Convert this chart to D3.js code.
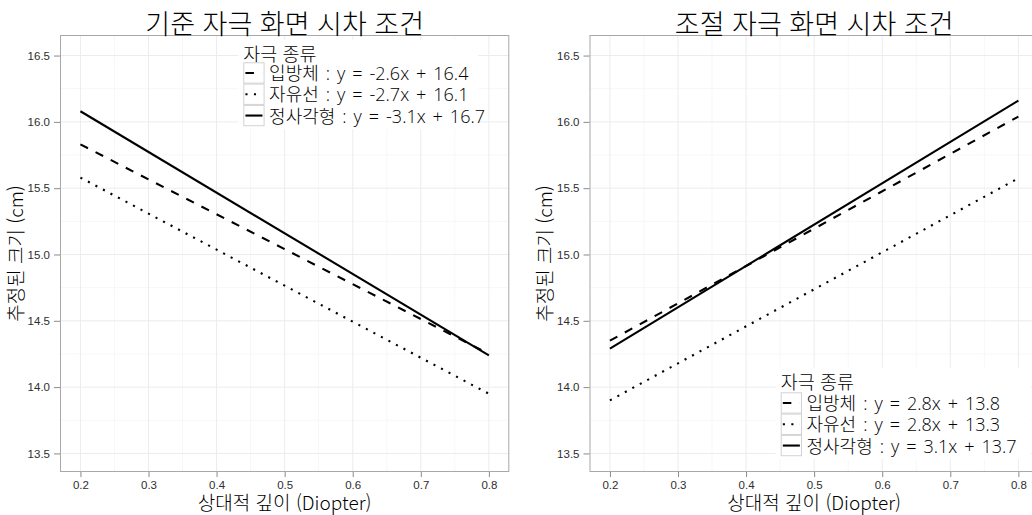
<!DOCTYPE html>
<html lang="ko">
<head>
<meta charset="utf-8">
<title>자극 종류별 추정된 크기</title>
<script src="https://cdn.jsdelivr.net/npm/d3@7"></script>
<style>
  html, body { margin: 0; padding: 0; background: #fff; }
  svg { display: block; }
</style>
</head>
<body>
<svg id="chart" width="1032" height="515"></svg>
<script>
// ---- data ----
const seriesNames = ["입방체", "자유선", "정사각형"];
const depthRange = [0.2, 0.8];                 // fitted line x extent (Diopter)
// fitted estimated size (cm) at depth 0.2 and 0.8
const baseStart = [15.83, 15.58, 16.08];
const baseEnd   = [14.25, 13.95, 14.24];
const adjStart  = [14.35, 13.90, 14.29];
const adjEnd    = [16.04, 15.575, 16.16];
const baseEquations = ["y = -2.6x + 16.4", "y = -2.7x + 16.1", "y = -3.1x + 16.7"];
const adjEquations  = ["y = 2.8x + 13.8", "y = 2.8x + 13.3", "y = 3.1x + 13.7"];
const panelTitles = ["기준 자극 화면 시차 조건", "조절 자극 화면 시차 조건"];
const xTicks = [0.2, 0.3, 0.4, 0.5, 0.6, 0.7, 0.8];
const yTicks = [13.5, 14.0, 14.5, 15.0, 15.5, 16.0, 16.5];
const xMinor = [0.25, 0.35, 0.45, 0.55, 0.65, 0.75];
const yMinor = [13.75, 14.25, 14.75, 15.25, 15.75, 16.25];
const xLabel = "상대적 깊이 (Diopter)";
const yLabel = "추정된 크기 (cm)";
const legendTitle = "자극 종류";

// ---- styles ----
const dashes = ["8.5,8.5", "2.1,6.4", null];
const KR = "'Noto Sans CJK KR', 'Noto Sans', sans-serif";
const MIXED = "'Open Sans', 'Noto Sans CJK KR', sans-serif";
const TICKFONT = "'Liberation Sans', Arial, sans-serif";

const svg = d3.select("#chart");

function drawPanel(opts) {
  const top = 35, bottom = 472;
  const x = d3.scaleLinear().domain([0.17, 0.83]).range([opts.left, opts.right]);
  const y = d3.scaleLinear().domain([13.36, 16.655]).range([bottom, top]);
  const g = svg.append("g");

  // panel background
  g.append("rect")
    .attr("x", opts.left).attr("y", top)
    .attr("width", opts.right - opts.left).attr("height", bottom - top)
    .attr("fill", "#fff");

  // minor grid
  g.append("g").selectAll("line").data(xMinor).join("line")
    .attr("x1", d => x(d)).attr("x2", d => x(d))
    .attr("y1", top).attr("y2", bottom)
    .attr("stroke", "#f7f7f7").attr("stroke-width", 1);
  g.append("g").selectAll("line").data(yMinor).join("line")
    .attr("x1", opts.left).attr("x2", opts.right)
    .attr("y1", d => y(d)).attr("y2", d => y(d))
    .attr("stroke", "#f7f7f7").attr("stroke-width", 1);
  // major grid
  g.append("g").selectAll("line").data(xTicks).join("line")
    .attr("x1", d => x(d)).attr("x2", d => x(d))
    .attr("y1", top).attr("y2", bottom)
    .attr("stroke", "#ececec").attr("stroke-width", 1);
  g.append("g").selectAll("line").data(yTicks).join("line")
    .attr("x1", opts.left).attr("x2", opts.right)
    .attr("y1", d => y(d)).attr("y2", d => y(d))
    .attr("stroke", "#ececec").attr("stroke-width", 1);

  // fitted lines
  const line = d3.line().x(d => x(d[0])).y(d => y(d[1]));
  seriesNames.forEach((name, i) => {
    const pts = [[depthRange[0], opts.start[i]], [depthRange[1], opts.end[i]]];
    g.append("path")
      .datum(pts)
      .attr("d", line)
      .attr("fill", "none")
      .attr("stroke", "#000")
      .attr("stroke-width", 2.1)
      .attr("stroke-dasharray", dashes[i]);
  });

  // panel border
  g.append("rect")
    .attr("x", opts.left + 0.5).attr("y", top + 0.5)
    .attr("width", opts.right - opts.left - 1).attr("height", bottom - top - 1)
    .attr("fill", "none").attr("stroke", "#a8a8a8").attr("stroke-width", 1);

  // axes
  const ax = g.append("g").attr("transform", `translate(0,${bottom})`)
    .call(d3.axisBottom(x).tickValues(xTicks).tickFormat(d3.format(".1f"))
      .tickSize(5).tickPadding(4));
  const ay = g.append("g").attr("transform", `translate(${opts.left},0)`)
    .call(d3.axisLeft(y).tickValues(yTicks).tickFormat(d3.format(".1f"))
      .tickSize(6).tickPadding(4));
  [ax, ay].forEach(a => {
    a.select(".domain").remove();
    a.selectAll(".tick line").attr("stroke", "#8a8a8a");
    a.selectAll(".tick text")
      .attr("fill", "#2e2e2e")
      .style("font-family", TICKFONT)
      .style("font-size", "11.5px");
  });

  const cx = (opts.left + opts.right) / 2;
  // title
  g.append("text")
    .attr("x", cx).attr("y", 33.5)
    .attr("text-anchor", "middle")
    .style("font-family", KR).style("font-size", "27px").style("font-weight", 300)
    .attr("fill", "#000")
    .text(opts.title);
  // x axis title
  g.append("text")
    .attr("x", cx).attr("y", 509.5)
    .attr("text-anchor", "middle")
    .style("font-family", KR).style("font-size", "19px").style("font-weight", 300)
    .attr("fill", "#000")
    .text(xLabel);
  // y axis title
  g.append("text")
    .attr("transform", `translate(${opts.left - 37.5},${(top + bottom) / 2}) rotate(-90)`)
    .attr("text-anchor", "middle")
    .style("font-family", KR).style("font-size", "19px").style("font-weight", 300)
    .attr("fill", "#000")
    .text(yLabel);

  // legend
  const L = opts.legend;
  const key = 21.3;
  const lg = g.append("g");
  lg.append("rect")
    .attr("x", L.x - 5).attr("y", L.titleY - 21)
    .attr("width", L.w).attr("height", L.keyTop + 3 * key + 3 - (L.titleY - 21))
    .attr("fill", "#fff");
  lg.append("text")
    .attr("x", L.x).attr("y", L.titleY)
    .style("font-family", KR).style("font-size", "18.5px").style("font-weight", 300)
    .attr("fill", "#000")
    .text(legendTitle);
  seriesNames.forEach((name, i) => {
    const ky = L.keyTop + i * key;
    lg.append("rect")
      .attr("x", L.x + 0.5).attr("y", ky + 0.5)
      .attr("width", key - 1).attr("height", key - 1)
      .attr("fill", "#fff").attr("stroke", "#d2d2d2").attr("stroke-width", 1);
    lg.append("line")
      .attr("x1", L.x + key * 0.1).attr("x2", L.x + key * 0.9)
      .attr("y1", ky + key / 2).attr("y2", ky + key / 2)
      .attr("stroke", "#000").attr("stroke-width", 2.1)
      .attr("stroke-dasharray", dashes[i]);
    lg.append("text")
      .attr("x", L.x + key + 4.5).attr("y", ky + key / 2 + 7.2)
      .style("font-family", MIXED).style("font-size", "18px").style("font-weight", 300)
      .style("word-spacing", "2.3px")
      .attr("fill", "#000")
      .text(`${name} : ${opts.equations[i]}`);
  });
}

drawPanel({
  left: 60, right: 509.3, title: panelTitles[0],
  start: baseStart, end: baseEnd, equations: baseEquations,
  legend: { x: 243.3, titleY: 60.7, keyTop: 62.3, w: 240 }
});
drawPanel({
  left: 589.5, right: 1038.8, title: panelTitles[1],
  start: adjStart, end: adjEnd, equations: adjEquations,
  legend: { x: 780.7, titleY: 388.7, keyTop: 392.3, w: 255 }
});
</script>
</body>
</html>
